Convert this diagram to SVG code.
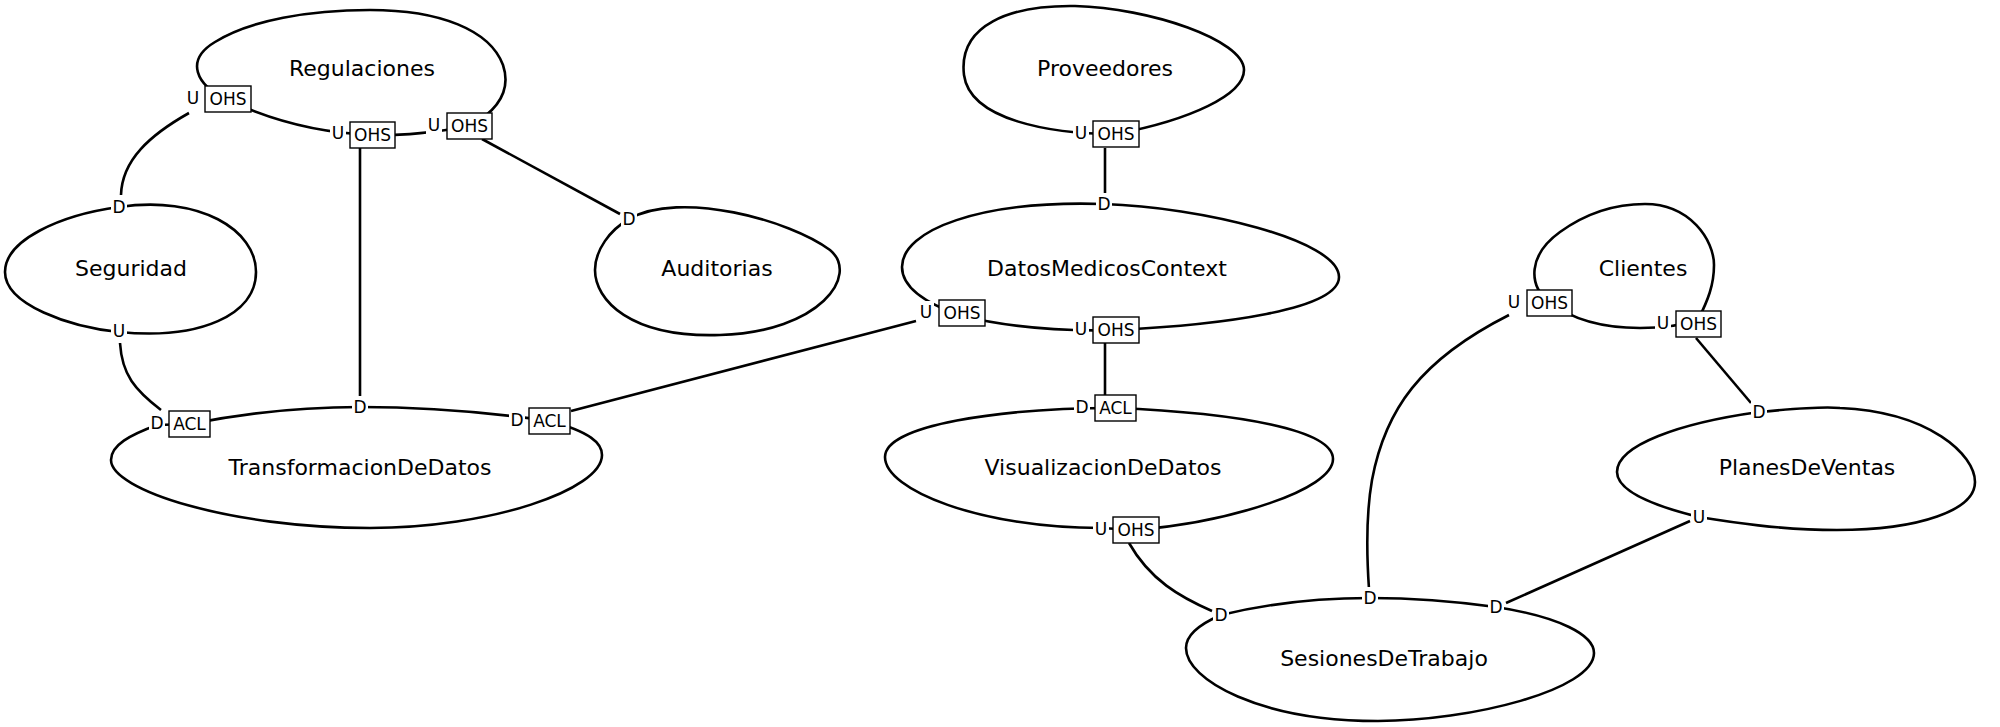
<svg xmlns="http://www.w3.org/2000/svg" width="2000" height="727" viewBox="0 0 2000 727">
<style>
.blob{fill:none;stroke:#000;stroke-width:2.6}
.con path{fill:none;stroke:#000;stroke-width:2.6}
.name{font-family:"DejaVu Sans",sans-serif;font-size:22px;text-anchor:middle;fill:#000}
.lbl{font-family:"DejaVu Sans",sans-serif;font-size:17px;text-anchor:middle;fill:#000}
.bg{fill:#fff;stroke:none}
.box{fill:#fff;stroke:#000;stroke-width:1.4}
</style>
<rect width="2000" height="727" fill="#fff"/>

<g id="Regulaciones">
<path class="blob" d="M228,100 C195,85 185,60 215,42 C250,20 310,10 370,10 C440,10 490,30 503,65 C512,92 495,112 470,126 C440,132 400,136 372,135 C320,133 270,120 228,100 Z"/>
<text class="name" x="362" y="76">Regulaciones</text>
</g>
<g id="Seguridad">
<path class="blob" d="M119,207 C200,195 256,230 256,272 C256,315 200,340 119,332 C70,327 5,305 5,272 C5,240 60,215 119,207 Z"/>
<text class="name" x="131" y="276">Seguridad</text>
</g>
<g id="Auditorias">
<path class="blob" d="M629,219 C680,190 790,220 830,250 C860,275 820,332 720,335 C630,338 595,300 595,270 C595,250 610,230 629,219 Z"/>
<text class="name" x="717" y="276">Auditorias</text>
</g>
<g id="Proveedores">
<path class="blob" d="M1116,134 C1050,134 970,120 964,75 C958,25 1010,5 1075,6 C1150,8 1244,40 1244,70 C1244,95 1190,120 1116,134 Z"/>
<text class="name" x="1105" y="76">Proveedores</text>
</g>
<g id="DatosMedicosContext">
<path class="blob" d="M1104,204 C1200,207 1339,240 1339,277 C1339,310 1220,325 1116,330 C1050,332 1000,325 962,316 C930,305 902,290 902,267 C902,230 980,200 1104,204 Z"/>
<text class="name" x="1107" y="276">DatosMedicosContext</text>
</g>
<g id="TransformacionDeDatos">
<path class="blob" d="M190,424 C250,412 300,407 360,407 C420,407 480,411 550,421 C590,432 602,443 602,455 C602,490 490,528 370,528 C230,528 111,490 111,460 C111,445 130,435 157,425 Z"/>
<text class="name" x="360" y="475">TransformacionDeDatos</text>
</g>
<g id="VisualizacionDeDatos">
<path class="blob" d="M1115,408 C1000,408 885,425 885,457 C885,490 980,528 1101,528 L1136,530 C1230,522 1333,490 1333,459 C1333,430 1240,413 1115,408 Z"/>
<text class="name" x="1103" y="475">VisualizacionDeDatos</text>
</g>
<g id="SesionesDeTrabajo">
<path class="blob" d="M1221,615 C1270,603 1320,598 1370,598 C1420,598 1460,602 1496,607 C1560,617 1594,635 1594,653 C1594,690 1470,721 1378,721 C1260,721 1186,680 1186,648 C1186,635 1200,624 1221,615 Z"/>
<text class="name" x="1384" y="666">SesionesDeTrabajo</text>
</g>
<g id="Clientes">
<path class="blob" d="M1549,302 C1528,285 1528,255 1560,232 C1585,214 1615,204 1645,204 C1690,204 1714,240 1714,265 C1714,285 1708,300 1698,320 C1680,326 1660,328 1640,328 C1600,328 1570,318 1549,302 Z"/>
<text class="name" x="1643" y="276">Clientes</text>
</g>
<g id="PlanesDeVentas">
<path class="blob" d="M1759,412 C1800,408 1830,407 1840,408 C1930,412 1975,455 1975,482 C1975,510 1920,530 1837,530 C1780,530 1730,522 1699,517 C1650,505 1617,490 1617,472 C1617,445 1680,423 1759,412 Z"/>
<text class="name" x="1807" y="475">PlanesDeVentas</text>
</g>

<g id="connectors" class="con">
<path d="M189,113 C150,135 122,160 121,195"/>
<path d="M120,343 C122,375 135,390 161,410"/>
<path d="M360,148 L360,397"/>
<path d="M482,139 L620,214"/>
<path d="M1105,148 L1105,196"/>
<path d="M916,321 L571,411"/>
<path d="M1105,343 L1105,395"/>
<path d="M1129,543 C1150,580 1180,597 1212,611"/>
<path d="M1509,315 C1420,360 1385,410 1372,480 C1365,520 1367,560 1369,589"/>
<path d="M1696,338 L1751,403"/>
<path d="M1690,521 L1506,603"/>
</g>

<g id="labels">
<!-- Regulaciones -->
<rect class="bg" x="185" y="87" width="16" height="22"/><text class="lbl" x="193" y="104">U</text>
<rect class="box" x="205" y="86" width="46" height="26"/><text class="lbl" x="228" y="105">OHS</text>
<rect class="bg" x="330" y="122" width="16" height="22"/><text class="lbl" x="338" y="139">U</text>
<rect class="box" x="350" y="122" width="45" height="26"/><text class="lbl" x="372.5" y="141">OHS</text>
<rect class="bg" x="426" y="114" width="16" height="22"/><text class="lbl" x="434" y="131">U</text>
<rect class="box" x="447" y="113" width="45" height="26"/><text class="lbl" x="469.5" y="132">OHS</text>
<!-- Seguridad -->
<rect class="bg" x="111" y="196" width="16" height="22"/><text class="lbl" x="119" y="213">D</text>
<rect class="bg" x="111" y="320" width="16" height="22"/><text class="lbl" x="119" y="337">U</text>
<!-- Auditorias -->
<rect class="bg" x="621" y="208" width="16" height="22"/><text class="lbl" x="629" y="225">D</text>
<!-- Proveedores -->
<rect class="bg" x="1073" y="122" width="16" height="22"/><text class="lbl" x="1081" y="139">U</text>
<rect class="box" x="1093" y="121" width="46" height="26"/><text class="lbl" x="1116" y="140">OHS</text>
<!-- DatosMedicosContext -->
<rect class="bg" x="1096" y="193" width="16" height="22"/><text class="lbl" x="1104" y="210">D</text>
<rect class="bg" x="918" y="301" width="16" height="22"/><text class="lbl" x="926" y="318">U</text>
<rect class="box" x="939" y="300" width="46" height="26"/><text class="lbl" x="962" y="319">OHS</text>
<rect class="bg" x="1073" y="318" width="16" height="22"/><text class="lbl" x="1081" y="335">U</text>
<rect class="box" x="1093" y="317" width="46" height="26"/><text class="lbl" x="1116" y="336">OHS</text>
<!-- TransformacionDeDatos -->
<rect class="bg" x="149" y="412" width="16" height="22"/><text class="lbl" x="157" y="429">D</text>
<rect class="box" x="169" y="411" width="41" height="26"/><text class="lbl" x="189.5" y="430">ACL</text>
<rect class="bg" x="352" y="396" width="16" height="22"/><text class="lbl" x="360" y="413">D</text>
<rect class="bg" x="509" y="409" width="16" height="22"/><text class="lbl" x="517" y="426">D</text>
<rect class="box" x="529" y="408" width="41" height="26"/><text class="lbl" x="549.5" y="427">ACL</text>
<!-- VisualizacionDeDatos -->
<rect class="bg" x="1074" y="396" width="16" height="22"/><text class="lbl" x="1082" y="413">D</text>
<rect class="box" x="1095" y="395" width="41" height="26"/><text class="lbl" x="1115.5" y="414">ACL</text>
<rect class="bg" x="1093" y="518" width="16" height="22"/><text class="lbl" x="1101" y="535">U</text>
<rect class="box" x="1113" y="517" width="46" height="26"/><text class="lbl" x="1136" y="536">OHS</text>
<!-- SesionesDeTrabajo -->
<rect class="bg" x="1213" y="604" width="16" height="22"/><text class="lbl" x="1221" y="621">D</text>
<rect class="bg" x="1362" y="587" width="16" height="22"/><text class="lbl" x="1370" y="604">D</text>
<rect class="bg" x="1488" y="596" width="16" height="22"/><text class="lbl" x="1496" y="613">D</text>
<!-- Clientes -->
<rect class="bg" x="1506" y="291" width="16" height="22"/><text class="lbl" x="1514" y="308">U</text>
<rect class="box" x="1527" y="290" width="45" height="26"/><text class="lbl" x="1549.5" y="309">OHS</text>
<rect class="bg" x="1655" y="312" width="16" height="22"/><text class="lbl" x="1663" y="329">U</text>
<rect class="box" x="1676" y="311" width="45" height="26"/><text class="lbl" x="1698.5" y="330">OHS</text>
<!-- PlanesDeVentas -->
<rect class="bg" x="1751" y="401" width="16" height="22"/><text class="lbl" x="1759" y="418">D</text>
<rect class="bg" x="1691" y="506" width="16" height="22"/><text class="lbl" x="1699" y="523">U</text>
</g>
</svg>
